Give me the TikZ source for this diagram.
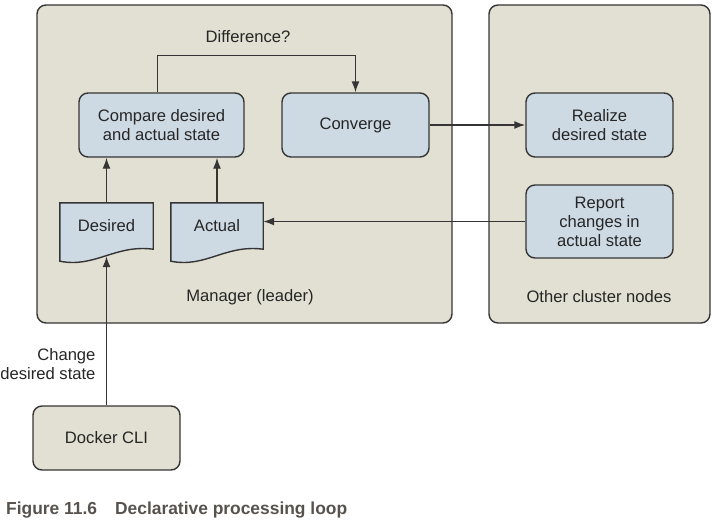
\documentclass[tikz,border=0pt]{standalone}
\usepackage{fontspec}
\setmainfont{Liberation Sans}
\usepackage{tikz}
\usetikzlibrary{arrows.meta}
\usepackage{xcolor}
\definecolor{panelfill}{HTML}{E1E0D2}
\definecolor{boxfill}{HTML}{CEDAE3}
\definecolor{edgegray}{HTML}{353535}
\definecolor{captiongray}{HTML}{57524D}

\pgfdeclarelayer{panels}
\pgfdeclarelayer{docs}
\pgfsetlayers{panels,docs,main}

% outline of a document node: flat top, wavy bottom
\newcommand{\docoutline}[1]{%
  \begin{pgfonlayer}{docs}
  \draw[edgegray,fill=boxfill,line width=1.4pt]
    (#1.south east) -- (#1.north east) -- (#1.north west)
    -- ([yshift=-12pt]#1.south west)
    .. controls +(35,7) and +(-38,-5) .. (#1.south east) -- cycle;
  \end{pgfonlayer}}

\begin{document}
\begin{tikzpicture}[x=1pt,y=-1pt,
    panel/.style={draw=edgegray,fill=panelfill,line width=1.4pt,rounded corners=9pt},
    stepbox/.style={draw=edgegray,fill=boxfill,line width=1.4pt,rounded corners=9pt,
      align=center,minimum width=147pt,minimum height=64pt},
    docbox/.style={align=center,minimum width=93pt,minimum height=46pt},
    flow/.style={draw=edgegray,line width=1.4pt,-{Latex[length=11pt,width=8pt]}},
    every node/.style={font=\fontsize{16.6}{19}\selectfont,text=black!85}]
  \useasboundingbox (0,0) rectangle (719,519);

  % the two containers
  \begin{pgfonlayer}{panels}
  \draw[panel] (37,5) rectangle (452,323);
  \draw[panel] (489,5) rectangle (710,323);
  \end{pgfonlayer}
  \node (mgrlabel) at (250,297) {Manager (leader)};
  \node (otherlabel) at (599,297) {Other cluster nodes};

  % manager side
  \node[stepbox,minimum width=165pt] (compare) at (161.5,125) {Compare desired\\and actual state};
  \node[stepbox] (converge) at (355.5,125) {Converge};
  \node[docbox] (desired) at (106.5,226) {Desired};
  \node[docbox,minimum width=92pt] (actual) at (217,226) {Actual};
  \docoutline{desired}
  \docoutline{actual}

  % other nodes side
  \node[stepbox] (realize) at (599.5,125) {Realize\\desired state};
  \node[stepbox,minimum height=73pt] (report) at (599.5,221.5) {Report\\changes in\\actual state};

  % outside
  \node[stepbox,fill=panelfill] (cli) at (106.5,438) {Docker CLI};

  % arrows
  \draw[flow] (desired.north) -- (desired.north |- compare.south);
  \draw[flow] (actual.north) -- (actual.north |- compare.south);
  \draw[flow] ([xshift=-4pt]compare.north) -- ++(0,-37) coordinate (loopcorner) -| (converge.north);
  \node (diff) at (248,37) {Difference?};
  \draw[flow] (converge.east) -- (realize.west);
  \draw[flow] (report.west) -- (report.west -| actual.east);
  \draw[flow] (cli.north) -- ([yshift=-7pt]desired.south);
  \node[align=right,anchor=east] (changelbl) at (99,364) {Change\\desired state};

  \node[anchor=base west,inner sep=0pt,font=\fontsize{17.4}{20}\selectfont\bfseries,text=captiongray]
    (caption) at (6,514) {Figure 11.6\hspace{18pt}Declarative processing loop};
\end{tikzpicture}
\end{document}
